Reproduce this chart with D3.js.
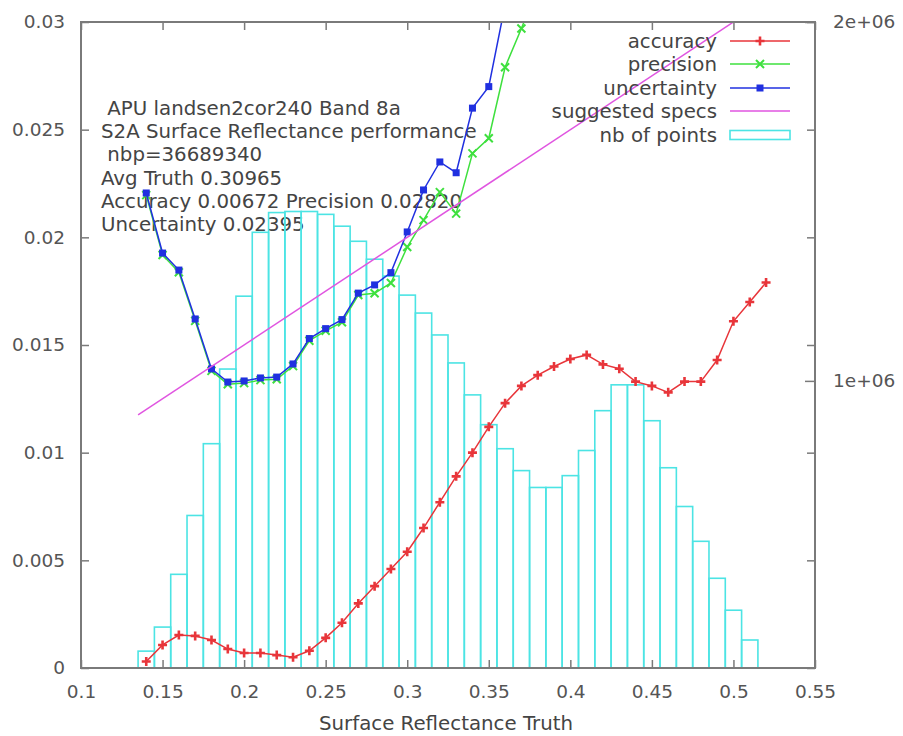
<!DOCTYPE html>
<html>
<head>
<meta charset="utf-8">
<script src="https://cdn.jsdelivr.net/npm/d3@7"></script>
<style>
	body{margin:0;background:#fff;}
	svg text{font-family:"DejaVu Sans",sans-serif;font-size:19.8px;fill:#444;}
	.axis text{fill:#555;font-size:18.5px;}
	.axis line{stroke:#7a7a7a;stroke-width:1.5;}
	.info{white-space:pre;}
</style>
</head>
<body>
<svg id="chart" width="903" height="736"></svg>
<script>
'use strict'
// bin centres of the histogram and the counts (right axis)
var binCenters = [0.14,0.15,0.16,0.17,0.18,0.19,0.20,0.21,0.22,0.23,0.24,0.25,0.26,0.27,0.28,0.29,0.30,0.31,0.32,0.33,0.34,0.35,0.36,0.37,0.38,0.39,0.40,0.41,0.42,0.43,0.44,0.45,0.46,0.47,0.48,0.49,0.50,0.51];
var nbPoints = [247000,314000,461000,625000,825000,1033000,1236000,1414000,1469000,1472000,1472000,1464000,1431000,1389000,1339000,1292000,1239000,1189000,1128000,1050000,961000,878000,811000,750000,703000,703000,736000,806000,917000,989000,989000,889000,758000,650000,553000,450000,361000,278000];

var accX = [0.14,0.15,0.16,0.17,0.18,0.19,0.20,0.21,0.22,0.23,0.24,0.25,0.26,0.27,0.28,0.29,0.30,0.31,0.32,0.33,0.34,0.35,0.36,0.37,0.38,0.39,0.40,0.41,0.42,0.43,0.44,0.45,0.46,0.47,0.48,0.49,0.50,0.51,0.52];
var accuracy = [0.0003,0.00107,0.00153,0.00149,0.0013,0.00088,0.0007,0.0007,0.0006,0.0005,0.0008,0.0014,0.0021,0.003,0.0038,0.0046,0.0054,0.0065,0.0077,0.0089,0.0100,0.0112,0.0123,0.0131,0.0136,0.0140,0.01435,0.01454,0.0141,0.0139,0.0133,0.0131,0.0128,0.0133,0.0133,0.0143,0.0161,0.0170,0.0179];

var precX = [0.14,0.15,0.16,0.17,0.18,0.19,0.20,0.21,0.22,0.23,0.24,0.25,0.26,0.27,0.28,0.29,0.30,0.31,0.32,0.33,0.34,0.35,0.36,0.37,0.38];
var precision = [0.02196,0.01918,0.01838,0.01612,0.01380,0.01318,0.01323,0.01337,0.01341,0.01402,0.01520,0.01566,0.01606,0.01732,0.01740,0.01788,0.01955,0.0208,0.0221,0.0211,0.0239,0.0246,0.0279,0.0297,0.0316];

var uncX = [0.14,0.15,0.16,0.17,0.18,0.19,0.20,0.21,0.22,0.23,0.24,0.25,0.26,0.27,0.28,0.29,0.30,0.31,0.32,0.33,0.34,0.35,0.36];
var uncertainty = [0.02206,0.01927,0.01848,0.01621,0.01389,0.01328,0.01333,0.01347,0.01351,0.01412,0.01530,0.01576,0.01618,0.01741,0.01779,0.01836,0.02025,0.0222,0.0235,0.0230,0.0260,0.0270,0.0308];

var specX = [0.135,0.52];
var specY = [0.01175,0.031];

var xTicks = [0.1,0.15,0.2,0.25,0.3,0.35,0.4,0.45,0.5,0.55];
var xTickLabels = ['0.1','0.15','0.2','0.25','0.3','0.35','0.4','0.45','0.5','0.55'];
var yTicks = [0,0.005,0.01,0.015,0.02,0.025,0.03];
var yTickLabels = ['0','0.005','0.01','0.015','0.02','0.025','0.03'];
var y2Ticks = [1e6,2e6];
var y2TickLabels = ['1e+06','2e+06'];

var infoLines = [' APU landsen2cor240 Band 8a','S2A Surface Reflectance performance',' nbp=36689340','Avg Truth 0.30965','Accuracy 0.00672 Precision 0.02820','Uncertainty 0.02395'];
var legendNames = ['accuracy','precision','uncertainty','suggested specs','nb of points'];

var colors = {acc:'#e8353a', prec:'#3ee03e', unc:'#2030e0', spec:'#e055e0', bars:'#4ce4e4'};

var W = {left:81, right:815, top:22, bottom:668};

var x = d3.scaleLinear().domain([0.1,0.55]).range([W.left,W.right]);
var y = d3.scaleLinear().domain([0,0.03]).range([W.bottom,W.top]);
var y2 = d3.scaleLinear().domain([2e5,2e6]).range([W.bottom,W.top]);

var svg = d3.select('#chart');

svg.append('clipPath').attr('id','plotclip')
	.append('rect')
	.attr('x',W.left).attr('y',W.top)
	.attr('width',W.right-W.left).attr('height',W.bottom-W.top);

function fmt(labels, ticks){
	return function(d){ return labels[ticks.indexOf(d)]; };
}

// axes, ticks pointing inward
svg.append('g').attr('class','axis')
	.attr('transform','translate(0,'+W.bottom+')')
	.call(d3.axisBottom(x).tickValues(xTicks).tickSize(-8).tickPadding(17).tickFormat(fmt(xTickLabels,xTicks)));
svg.append('g').attr('class','axis')
	.attr('transform','translate(0,'+W.top+')')
	.call(d3.axisTop(x).tickValues(xTicks).tickSize(-8).tickFormat(''));
svg.append('g').attr('class','axis')
	.attr('transform','translate('+W.left+',0)')
	.call(d3.axisLeft(y).tickValues(yTicks).tickSize(-8).tickPadding(16).tickFormat(fmt(yTickLabels,yTicks)));
svg.append('g').attr('class','axis')
	.attr('transform','translate('+W.right+',0)')
	.call(d3.axisRight(y).tickValues(yTicks).tickSize(-8).tickFormat(''));
svg.append('g').attr('class','axis')
	.attr('transform','translate('+W.right+',0)')
	.call(d3.axisRight(y2).tickValues(y2Ticks).tickSize(-10).tickPadding(18).tickFormat(fmt(y2TickLabels,y2Ticks)));
svg.selectAll('.axis .domain').remove();

svg.append('text')
	.attr('x',446).attr('y',730)
	.attr('text-anchor','middle')
	.text('Surface Reflectance Truth');

// info block
svg.append('g').selectAll('text')
	.data(infoLines).enter()
	.append('text').attr('class','info')
	.attr('x',101)
	.attr('y',function(d,i){ return 115 + i*23.2; })
	.text(function(d){ return d; });

var plot = svg.append('g').attr('clip-path','url(#plotclip)');

// histogram (right axis)
plot.append('g').selectAll('rect')
	.data(binCenters).enter()
	.append('rect')
	.attr('x',function(d){ return x(d-0.005); })
	.attr('width',function(d){ return x(d+0.005)-x(d-0.005); })
	.attr('y',function(d,i){ return y2(nbPoints[i]); })
	.attr('height',function(d,i){ return W.bottom - y2(nbPoints[i]); })
	.attr('fill','none')
	.attr('stroke',colors.bars)
	.attr('stroke-width',1.6);

var line = d3.line()
	.x(function(d){ return x(d[0]); })
	.y(function(d){ return y(d[1]); });

function series(xs, ys, color, marker){
	var pts = d3.zip(xs, ys);
	plot.append('path').datum(pts)
		.attr('d',line)
		.attr('fill','none')
		.attr('stroke',color)
		.attr('stroke-width',1.5);
	if(!marker) return;
	var g = plot.append('g');
	pts.forEach(function(p){
		drawMarker(g, x(p[0]), y(p[1]), color, marker);
	});
}

function drawMarker(g, cx, cy, color, marker){
	var s = 4.5;
	if(marker === 'plus'){
		g.append('path')
			.attr('d','M'+(cx-s)+','+cy+'H'+(cx+s)+'M'+cx+','+(cy-s)+'V'+(cy+s))
			.attr('stroke',color).attr('stroke-width',2.6);
	}
	else if(marker === 'cross'){
		s = 4;
		g.append('path')
			.attr('d','M'+(cx-s)+','+(cy-s)+'L'+(cx+s)+','+(cy+s)+'M'+(cx-s)+','+(cy+s)+'L'+(cx+s)+','+(cy-s))
			.attr('stroke',color).attr('stroke-width',2);
	}
	else if(marker === 'square'){
		g.append('rect')
			.attr('x',cx-3.5).attr('y',cy-3.5)
			.attr('width',7).attr('height',7)
			.attr('fill',color);
	}
}

series(accX, accuracy, colors.acc, 'plus');
series(precX, precision, colors.prec, 'cross');
series(uncX, uncertainty, colors.unc, 'square');
series(specX, specY, colors.spec, null);

// legend
var legendY = [41,64,88,111,135];
var lg = svg.append('g');
legendNames.forEach(function(name, i){
	lg.append('text')
		.attr('x',717).attr('y',legendY[i])
		.attr('dy','0.35em')
		.attr('text-anchor','end')
		.text(name);
});
[[colors.acc,'plus'],[colors.prec,'cross'],[colors.unc,'square'],[colors.spec,null]].forEach(function(c, i){
	lg.append('line')
		.attr('x1',730).attr('x2',790)
		.attr('y1',legendY[i]).attr('y2',legendY[i])
		.attr('stroke',c[0]).attr('stroke-width',1.5);
	if(c[1]) drawMarker(lg, 760, legendY[i], c[0], c[1]);
});
lg.append('rect')
	.attr('x',730).attr('y',legendY[4]-4.5)
	.attr('width',60).attr('height',9)
	.attr('fill','none')
	.attr('stroke',colors.bars).attr('stroke-width',1.6);

// frame
svg.append('rect')
	.attr('x',W.left).attr('y',W.top)
	.attr('width',W.right-W.left).attr('height',W.bottom-W.top)
	.attr('fill','none')
	.attr('stroke','#7a7a7a')
	.attr('stroke-width',2);
</script>
</body>
</html>
